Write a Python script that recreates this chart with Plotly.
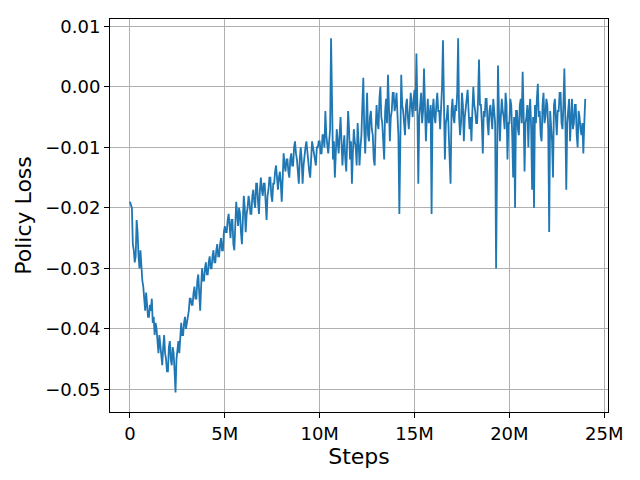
import plotly.graph_objects as go

# policy loss, in units of 1e-3, one value every 0.05M steps from 0 to 24M
loss_milli = [
    -19, -19.5, -20, -26, -27, -29, -28, -22, -24, -28, -30, -27, -31, -32, -33, -35, -37, -34, -36, -38,
    -38, -36, -37, -35, -39, -38, -41, -39, -40, -42, -44, -41, -43, -45, -46, -43, -41, -44, -45, -47,
    -47, -43, -42, -45, -46, -43, -44, -47, -50.5, -45, -43, -42, -44, -40, -39, -41, -41, -39, -38, -40,
    -39, -38, -37, -35, -35, -36, -36, -34, -33, -35, -35, -32, -31, -34, -37, -33, -30, -32, -32, -30,
    -29, -31, -31, -29, -28, -30, -30, -28, -27, -29, -29, -27, -26, -28, -28, -26, -25, -27, -27, -24,
    -23, -24, -24, -22, -21, -23, -25, -22, -22, -26, -27, -23, -19, -21, -23, -20, -21, -24, -26, -22,
    -18, -20, -24, -21, -20, -18, -19, -21, -21, -18, -17, -19, -20, -16, -16, -19, -21, -17, -15, -17,
    -18, -16, -16, -19, -22, -18, -17, -15, -15, -18, -19, -16, -16, -14, -13, -15, -17, -15, -14, -16,
    -19, -15, -11, -13, -14, -12, -12, -14, -15, -12, -11, -13, -13, -10, -9, -11, -12, -14, -16, -12,
    -10, -12, -16, -13, -11, -10, -9, -11, -12, -14, -15, -11, -9, -10, -11, -12, -13, -10, -10, -9,
    -9, -11, -11, -8, -8, -10, -4, -8, -10, -11, -9, -7, 8, -5, -12, -9, -15, -11, -7, -9,
    -11, -8, -5, -9, -13, -10, -8, -12, -14, -9, -4, -7, -12, -9, -16, -11, -7, -9, -10, -13,
    -6, -9, -13, -10, -8, -3, 1.5, -7, -11, -6, -1, -8, -9, -5, -4, -7, -8, -12, -13, -7,
    -3, -6, -7, -2, 0, -5, -6, -9, -12, -4, -2, -6, 2, -3, -9, -5, -4, -1, -1, -4,
    -3, -1, -5, -8, -21, -4, 2, -3, -4, -6, -8, -3, -2, -5, -7, -4, -1, -3, -5, -2,
    -0.5, -4, 5.5, -3, -16, -5, -3, -1, -6, -4, 3, -2, -9, -5, -2, -6, -5, -3, -21, -4,
    -2, -5, -6, -3, -1, -4, -4, -7, -3, 0, 7.7, -5, -12, -6, -5, -3, -7, -9, -16, -4,
    -2, -5, -6, -3, -4, -1, 8, -5, -8, -6, -1, -3, -9, -5, -3, -1, -0.5, -4, -7, -5,
    -9, -4, 0, -3, -4, -6, -6, -2, 4.5, -3, -3, -6, -11, -4, -5, -2, -2, -6, -8, -4,
    -3, -5, -7, -2, -4, -6, -30, -3, 3.5, -4, -9, -5, -2, -4, -5, -7, -1, -3, -12, -6,
    -6, -2, -3, -8, -15, -5, -20, -4, -4, -7, -8, -3, -2, -6, 2.5, -4, -14, -6, -5, -3,
    -10, -4, -2, -7, -17, -5, -20, -3, -6, -2, 0.5, -5, -4, -8, -9, -3, -1, -6, -5, -2,
    -3, -7, -24, -4, -6, -9, -15, -3, -2, -6, -8, -4, -4, -1, -1, -6, -7, -3, 3, -5,
    -17, -6, -4, -2, -9, -5, -2, -7, -6, -3, -3, -8, -10, -4, -5, -7, -8, -6, -11, -6,
    -2,
]
steps = [i * 50_000 for i in range(len(loss_milli))]
policy_loss = [v / 1000 for v in loss_milli]

x_tickvals = [0, 5_000_000, 10_000_000, 15_000_000, 20_000_000, 25_000_000]
x_ticktext = ["0", "5M", "10M", "15M", "20M", "25M"]
y_tickvals = [-0.05, -0.04, -0.03, -0.02, -0.01, 0.0, 0.01]

fig = go.Figure()
fig.add_trace(go.Scatter(
    x=steps, y=policy_loss, mode="lines",
    line=dict(color="#1f77b4", width=1.8),
))

axis_style = dict(
    showline=True, linecolor="black", linewidth=1, mirror=True,
    showgrid=True, gridcolor="#b0b0b0", gridwidth=1,
    ticks="outside", ticklen=5, tickwidth=1, tickcolor="black",
    zeroline=False, automargin=True,
    tickfont=dict(family="DejaVu Sans", size=18, color="black"),
)

# the page body adds an 8px offset, so margins are shifted to compensate
fig.update_layout(
    width=640, height=480,
    margin=dict(l=102, r=40, t=8, b=76),
    paper_bgcolor="white", plot_bgcolor="white",
    showlegend=False,
    font=dict(family="DejaVu Sans", size=18, color="black"),
    xaxis=dict(
        axis_style, range=[-1_054_000, 25_200_000],
        tickvals=x_tickvals, ticktext=x_ticktext,
        title=dict(text="Steps", standoff=4),
    ),
    yaxis=dict(
        axis_style, range=[-0.05372, 0.0112],
        tickvals=y_tickvals, tickformat=".2f",
        title=dict(text="Policy Loss", standoff=7),
    ),
)

fig.write_html("out.html")
